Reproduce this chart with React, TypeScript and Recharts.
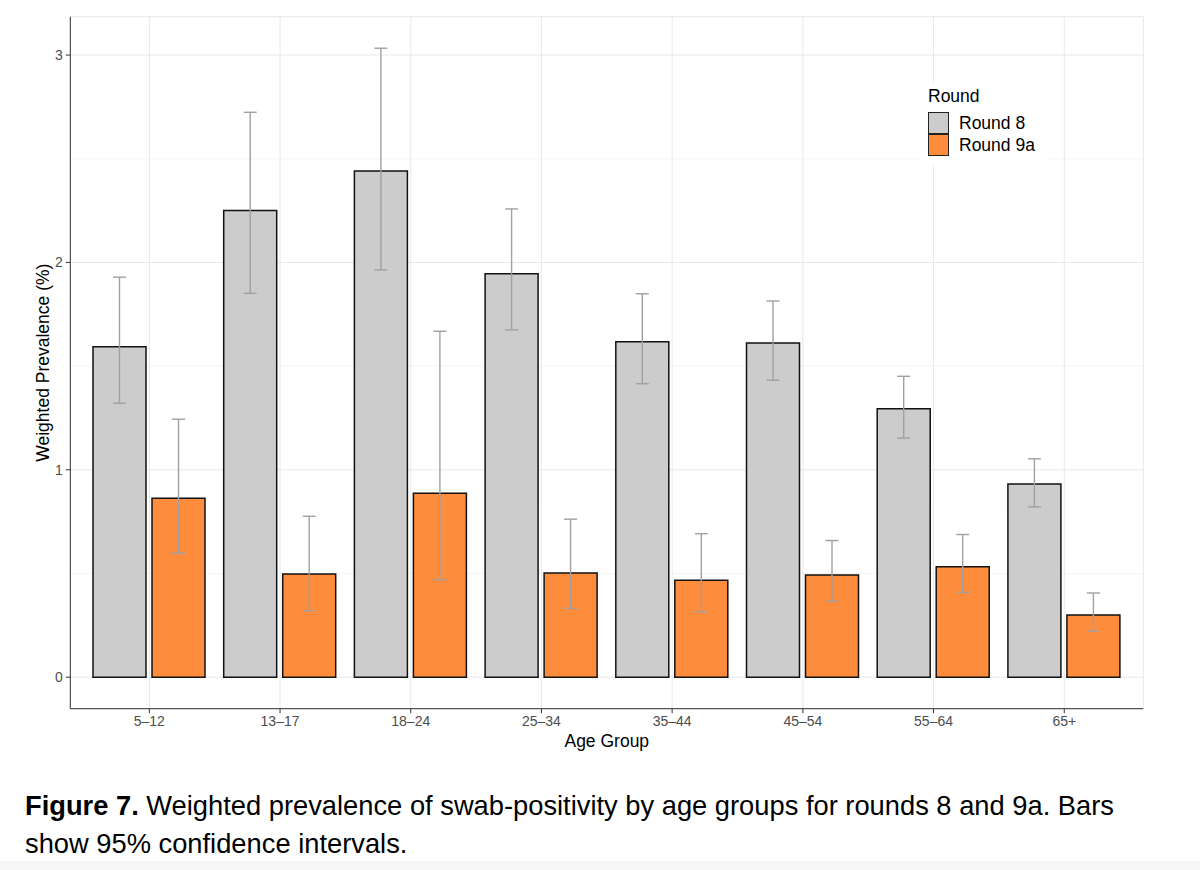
import React from "react";
import {
    BarChart, Bar, XAxis, YAxis, CartesianGrid, ErrorBar, Legend
} from "recharts";

// Age groups on the x axis
const AGE_GROUPS = ["5\u201312", "13\u201317", "18\u201324", "25\u201334", "35\u201344", "45\u201354", "55\u201364", "65+"];

// Round 8: weighted prevalence (%) with 95% CI
const ROUND8 = [1.594, 2.250, 2.441, 1.946, 1.618, 1.611, 1.295, 0.931];
const ROUND8_LO = [1.321, 1.851, 1.964, 1.675, 1.415, 1.432, 1.153, 0.821];
const ROUND8_HI = [1.929, 2.724, 3.033, 2.258, 1.849, 1.814, 1.451, 1.053];

// Round 9a
const ROUND9A = [0.863, 0.498, 0.887, 0.502, 0.467, 0.493, 0.533, 0.300];
const ROUND9A_LO = [0.598, 0.321, 0.470, 0.332, 0.316, 0.367, 0.409, 0.222];
const ROUND9A_HI = [1.244, 0.776, 1.668, 0.762, 0.692, 0.659, 0.688, 0.406];

const MAJOR_TICKS = [0, 1, 2, 3];
const MINOR_TICKS = [0.5, 1.5, 2.5];
const Y_DOMAIN = [-0.152, 3.185];

const GREY = "#cccccc";
const ORANGE = "#fd8d3c";
const FONT = '"Liberation Sans", Arial, Helvetica, sans-serif';

// ErrorBar wants [below, above] offsets from the bar value
const rows = AGE_GROUPS.map((group, i) => ({
    group,
    r8: ROUND8[i],
    r9: ROUND9A[i],
    r8Err: [ROUND8[i] - ROUND8_LO[i], ROUND8_HI[i] - ROUND8[i]],
    r9Err: [ROUND9A[i] - ROUND9A_LO[i], ROUND9A_HI[i] - ROUND9A[i]],
}));

const LegendBox = () => (
    <div style={{ background: "#fff", fontFamily: FONT, color: "#000", padding: "4px 0 0 7px", boxSizing: "border-box", width: "100%", height: "100%" }}>
        <div style={{ fontSize: 17.5, lineHeight: "20px", marginBottom: 6 }}>Round</div>
        {[{ name: "Round 8", color: GREY }, { name: "Round 9a", color: ORANGE }].map((item) => (
            <div key={item.name} style={{ display: "flex", alignItems: "center", height: 22 }}>
                <div style={{ width: 19, height: 20, background: item.color, border: "1px solid #222" }} />
                <span style={{ fontSize: 17.5, marginLeft: 10 }}>{item.name}</span>
            </div>
        ))}
    </div>
);

export default function App() {
    return (
        <div style={{ position: "absolute", left: 0, top: 0, width: 1200, height: 870, background: "#fff", overflow: "hidden" }}>
            <BarChart
                width={1200}
                height={760}
                data={rows}
                margin={{ top: 16.7, right: 56.7, bottom: 0.3, left: 0.3 }}
                barGap={6}
                barSize={53}
                style={{ fontFamily: FONT }}
            >
                {/* minor grid (fainter) */}
                <CartesianGrid yAxisId="minor" vertical={false} stroke="#f1f1f1" strokeWidth={0.8} />
                <CartesianGrid stroke="#e8e8e8" strokeWidth={1} />

                <XAxis
                    dataKey="group"
                    height={51}
                    padding={{ left: 13.7, right: 13.7 }}
                    tick={{ fill: "#4d4d4d", fontSize: 14 }}
                    tickSize={4.5}
                    tickMargin={3}
                    tickLine={{ stroke: "#333" }}
                    axisLine={{ stroke: "#333" }}
                    label={{ value: "Age Group", position: "insideBottom", offset: 13, fill: "#000", fontSize: 17.5 }}
                />
                <XAxis xAxisId="top" dataKey="group" orientation="top" height={0} tick={false} tickLine={false} axisLine={{ stroke: "#333" }} padding={{ left: 13.7, right: 13.7 }} />
                <YAxis
                    width={70}
                    domain={Y_DOMAIN}
                    ticks={MAJOR_TICKS}
                    allowDataOverflow
                    tick={{ fill: "#4d4d4d", fontSize: 14 }}
                    tickSize={4.5}
                    tickMargin={3}
                    tickLine={{ stroke: "#333" }}
                    axisLine={{ stroke: "#333" }}
                    label={{ value: "Weighted Prevalence (%)", angle: -90, position: "insideLeft", dx: 37, fill: "#000", fontSize: 17.5, style: { textAnchor: "middle" } }}
                />
                <YAxis yAxisId="minor" hide domain={Y_DOMAIN} ticks={MINOR_TICKS} allowDataOverflow />
                <YAxis yAxisId="right" orientation="right" width={0} tick={false} tickLine={false} axisLine={{ stroke: "#333" }} domain={[0, 1]} />

                <Legend
                    layout="vertical"
                    align="center"
                    verticalAlign="middle"
                    content={<LegendBox />}
                    wrapperStyle={{ left: 921, top: 82, right: "auto", bottom: "auto", width: 126, height: 84 }}
                />

                <Bar dataKey="r8" name="Round 8" fill={GREY} stroke="#111" strokeWidth={1.5} isAnimationActive={false}>
                    <ErrorBar dataKey="r8Err" width={6.5} stroke="#a0a0a0" strokeWidth={1.4} direction="y" />
                </Bar>
                <Bar dataKey="r9" name="Round 9a" fill={ORANGE} stroke="#111" strokeWidth={1.5} isAnimationActive={false}>
                    <ErrorBar dataKey="r9Err" width={6.5} stroke="#a0a0a0" strokeWidth={1.4} direction="y" />
                </Bar>
            </BarChart>

            <div style={{ position: "absolute", left: 25, top: 787.4, fontFamily: FONT, fontSize: 27.3, lineHeight: "37.7px", color: "#000", whiteSpace: "nowrap" }}>
                <b>Figure 7.</b> Weighted prevalence of swab-positivity by age groups for rounds 8 and 9a. Bars<br />
                show 95% confidence intervals.
            </div>
            <div style={{ position: "absolute", left: 0, top: 861, width: 1200, height: 9, background: "#f7f7f7" }} />
        </div>
    );
}
